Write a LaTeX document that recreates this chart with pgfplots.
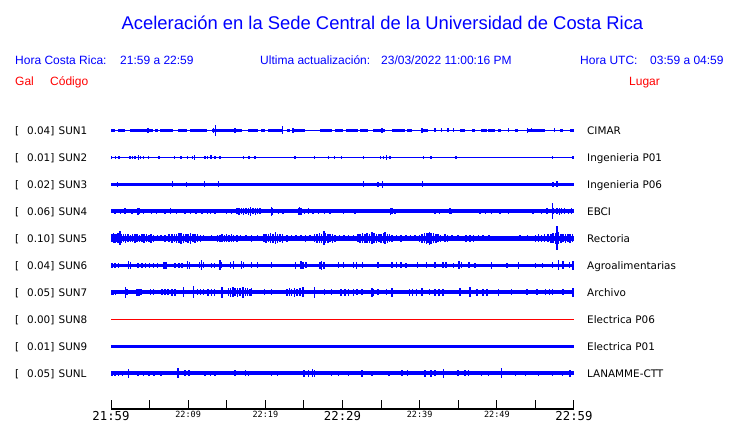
\documentclass[border=0pt]{standalone}
\usepackage{pgfplots}
\pgfplotsset{compat=1.18}
\usepackage{pgfplotstable}
\usepackage{fontspec}
\setmainfont{Liberation Sans}
\newfontfamily\dv{DejaVu Sans}
\newfontfamily\dvm{DejaVu Sans Mono}
\definecolor{tb}{RGB}{0,0,255}
\definecolor{tr}{RGB}{255,0,0}

\pgfplotstableread{
t y
0 0
60 0
}\spanT

% SUN1 thicker blocks: centre t, half width w (minutes)
\pgfplotstableread{
t w
0.26 0.26
1.38 0.43
3.97 1.51
5.92 0.22
7.22 0.87
9.26 0.54
11.32 1.08
14.99 1.95
18.45 0.65
19.73 0.23
21.26 0.86
22.98 0.22
24.37 0.77
27.84 0.76
29.55 0.55
31.23 0.83
32.83 0.53
34.75 0.75
37.25 0.85
38.68 0.28
40.68 0.42
45.55 0.35
46.97 0.23
48.35 0.35
49.35 0.45
50.40 0.20
52.60 0.20
55.05 1.15
58.40 0.20
59.75 0.25
}\blkA

\pgfplotstableread{
t a
4.8 2.5
13.3 2.5
13.52 5.3
16.07 2.3
22.2 3.8
23.6 2.5
35.1 2.3
40.3 2.3
41.99 2
42.85 2
43.7 2
44.4 2
51.5 2
54.0 2.5
54.5 2
57.5 2
}\spA

\pgfplotstableread{
t a
0.08 1.8
0.6 1.8
1.03 1.8
2.46 1.8
2.76 1.8
3.11 1.8
3.54 2.2
3.8 1.8
4.19 1.8
4.84 1.8
6.22 1.5
8.21 1.8
9.07 1.5
9.93 1.8
10.54 1.8
10.8 2.2
12.18 1.8
12.53 1.8
12.96 2
13.48 1.8
14.12 1.8
17.15 1.8
17.88 1.5
18.66 1.8
23.84 1.8
26.35 1.5
28.16 1.8
28.94 1.8
29.89 1.5
32.7 1.8
34.95 1.5
35.29 1.8
35.72 2.2
36.16 1.5
40.48 1.8
41.47 1.5
44.71 1.5
57.24 1.8
59.9 1.8
}\spB

\pgfplotstableread{
t a
0.82 2.8
8.0 3
9.8 2.8
12.1 3
13.9 3
32.7 3
34.6 2.8
35.2 3.5
40.4 3
57.3 2.8
57.8 3
}\spC

\pgfplotstableread{
t a
0.52 2.5
1.25 2.5
1.8 3
2.7 2.5
3.5 3.5
3.7 3
4.2 2.5
5.27 2.5
5.9 2.5
7.0 2.5
7.73 3
8.5 2.5
9.6 2.5
10.3 2.5
11.0 2.5
11.8 2.5
12.5 2.5
12.9 2.5
13.5 2.5
15.0 2.5
15.6 2.5
16.3 3
16.6 3.5
16.9 3
17.2 3.5
17.5 3
17.8 3.5
18.1 4.5
18.4 3
18.7 3.5
19.0 3
19.3 3
20.8 4.5
20.95 3.5
21.7 2.5
22.3 2.5
24.3 3.5
24.45 4
24.6 3.5
25.1 2.5
25.6 3
26.2 2.5
26.9 2.5
27.7 2.5
28.4 2.5
30.1 2.5
31.6 2.5
36.2 3.5
36.4 3
36.8 2.5
42.0 2.5
42.6 2.5
43.9 3
44.1 2.5
47.8 2.5
48.5 2.5
49.3 2.5
50.4 2.5
51.5 2.5
54.7 2.5
55.8 2.5
56.5 3
57.2 8
57.35 3
57.8 3
58.1 3.5
58.4 3
58.8 3
59.3 2.5
59.7 3
}\spD

\pgfplotstableread{
t a
0.1 4
0.3 5
0.5 4.5
0.7 4
0.9 5
1.16 7
1.3 4.5
1.6 4
1.9 4.5
2.2 4
2.5 3.5
2.8 4
3.1 4.5
3.4 4
3.7 3.5
4.0 4
4.3 4.5
4.6 4
4.9 3.5
5.2 4.5
5.5 3.5
6.0 3
6.5 3
7.0 3.5
7.5 4
7.9 4.5
8.2 4
8.5 4.5
8.8 5
9.1 5.5
9.4 4.5
9.7 4
10.0 4.5
10.3 5.5
10.6 4
10.9 4.5
11.2 4
11.6 3.5
12.0 3
13.0 3
13.8 3.5
14.1 3.5
14.4 4
14.7 3.5
15.0 4
15.3 3.5
15.6 4
15.9 3.5
16.3 3.5
16.8 3
17.5 3
18.2 3.5
19.0 3
19.8 4
20.1 4.5
20.4 4
20.7 5
21.0 4.5
21.3 6
21.6 4.5
21.9 4
22.2 4.5
22.8 3.5
23.4 3
24.0 3
24.6 3
25.2 3.5
25.8 3
26.4 4
26.7 4.5
27.0 5
27.3 4.5
27.6 7
27.8 5
28.1 4.5
28.4 4
28.7 4.5
29.0 3.5
29.6 3
30.2 3
30.8 3
31.4 3
32.0 4
32.3 4.5
32.6 5
32.9 4.5
33.2 5
33.5 4.5
33.8 6
34.1 5
34.4 4.5
34.7 4
35.0 4.5
35.3 5
35.5 6
35.8 4.5
36.1 4
36.4 3.5
37.0 3
37.6 3.5
38.2 3
38.8 3
39.4 3
40.0 3.5
40.3 4.5
40.6 5
40.9 5.5
41.1 5
41.3 6.5
41.5 5.5
41.8 5
42.1 4.5
42.4 4
42.7 3.5
43.3 4
43.6 3.5
44.2 3
45.0 3
46.0 3.5
46.5 3.5
47.0 3.5
47.6 3
48.2 3
49.0 3
50.0 2.8
51.0 2.8
52.0 2.8
53.0 3
54.0 3
55.0 3.5
55.4 4
55.8 3.5
56.2 4
56.6 4
57.0 4.5
57.3 5
57.6 5.5
57.8 12
58.0 6
58.3 4.5
58.6 4
58.9 4.5
59.2 4
59.5 4.5
59.8 4
}\spE

\pgfplotstableread{
t a
0.1 2.3
0.5 2.5
1.0 2.3
2.3 4
2.5 3.5
3.5 2.5
4.0 2.5
4.5 2.5
5.0 2.5
5.5 2.5
6.0 2.3
6.9 3.5
7.1 3.5
8.3 2.5
8.8 2.5
9.2 2.5
9.9 4
10.2 3.5
11.5 3
11.75 5
12.0 3
13.0 2.5
13.4 2.5
14.1 5
14.3 3
15.5 3
15.9 4
16.9 4
17.2 3
18.2 3
19.0 3
20.8 3
23.9 3.5
24.6 4
24.9 3.5
25.3 3
27.1 3.5
27.3 4.5
27.6 3.5
29.5 3
30.1 3
31.4 3
31.8 3.5
32.6 3
34.6 3
36.4 3
37.0 3
37.6 3
38.2 2.5
39.7 3
40.9 3
42.0 3
43.0 3
43.4 3
44.4 2.5
45.1 4
45.4 3
46.4 3
47.2 2.5
49.3 3.5
51.3 2.5
52.8 3.5
55.0 2.5
55.9 2.5
57.2 3
58.0 5
58.6 4
59.4 3
59.9 4.5
}\spF

\pgfplotstableread{
t a
0.1 2.5
0.3 2.5
0.6 2.5
1.9 5.5
2.1 3
3.4 3.5
3.6 3.5
3.9 3
5.1 3
5.5 3
6.6 3
7.0 3
7.4 3
7.9 3.5
8.3 3.5
9.4 5
10.7 6
11.2 3
11.6 3
12.0 3
12.6 3.5
13.0 3.5
13.4 3.5
14.4 5.5
15.2 4
15.5 4.5
15.8 5
16.1 4
16.4 4.5
16.7 4
17.1 5.5
17.4 4
17.7 4
18.0 3.5
18.2 4
19.9 3
20.8 3
22.8 3.5
23.1 4
23.4 3.5
23.8 4.5
24.1 3.5
24.5 4
24.9 5
26.4 5.5
27.7 3
28.6 3
29.8 3.5
30.3 3.5
30.8 3.5
31.4 3.5
31.9 3
32.5 3
33.8 4.5
34.0 3.5
34.6 3
35.7 3
36.4 4.5
38.7 3.5
39.1 3.5
39.6 3.5
40.3 4
41.3 3
42.0 3.5
42.5 3.5
43.0 3.5
45.2 4
46.5 5
47.4 3.5
48.2 3.5
48.7 3.5
50.2 3.5
51.9 3
53.9 3
55.2 3
56.3 3
56.8 3
57.2 3
58.6 3
59.9 4.5
}\spG

\pgfplotstableread{
t a
0.1 2.5
0.5 2.5
1.0 2.5
1.5 2.5
2.3 4.5
3.5 2.5
4.2 2.5
4.9 2.5
5.6 2.5
6.5 2.5
8.7 5
9.6 3
10.1 3
12.2 2.5
12.9 2.5
13.5 2.5
16.1 3
17.4 3
17.8 2.5
20.8 2.5
21.6 2.5
25.0 3.5
25.6 3.5
26.1 4
26.4 3.5
28.6 2.5
29.5 2.5
30.8 2.5
32.5 3.5
33.8 2.5
36.0 2.5
37.7 3
38.4 3
40.7 3.5
41.5 3.5
42.0 3
43.1 4.5
45.0 3
45.9 3
46.3 3
48.0 2.5
48.9 2.5
50.6 5
52.4 2.5
53.7 2.5
55.4 2.5
57.2 2.5
58.5 2.5
59.5 3.5
}\spL

\newcommand\tx{111+463/60*\thisrow{t}}
\newcommand\base[3]{\addplot[#1, line width=#2pt, forget plot] table[x expr=\tx, y expr=#3]{\spanT};}
\newcommand\spikes[2]{\addplot[draw=none, forget plot, error bars/.cd, y dir=both, y explicit, error mark=none, error bar style={draw=tb, line width=1.5pt, solid}] table[x expr=\tx, y expr=#1, y error=a]{#2};}
\newcommand\lab[5]{%
 \node[anchor=base west, inner sep=0pt, font=\dv\fontsize{10.4}{12}\selectfont] at (axis cs:15,#1) {[};
 \node[anchor=base west, inner sep=0pt, font=\dv\fontsize{10.4}{12}\selectfont] at (axis cs:27,#1) {#2]};
 \node[anchor=base west, inner sep=0pt, font=\dv\fontsize{10.4}{12}\selectfont] at (axis cs:58.5,#1) {#3};
 \node[anchor=base west, inner sep=0pt, font=\dv\fontsize{10.4}{12}\selectfont] at (axis cs:587,#1) {#4};}

\begin{document}
\begin{tikzpicture}
\useasboundingbox (0,0) rectangle (740pt,423pt);
\begin{axis}[at={(0,0)}, anchor=south west, scale only axis, width=740pt, height=423pt,
  xmin=0, xmax=740, ymin=0, ymax=423, y dir=reverse, hide axis, clip=false]
% title and headers
\node[anchor=base, inner sep=0pt, text=tb, font=\fontsize{18.4}{22}\selectfont] at (axis cs:382.5,29.5) {Aceleración en la Sede Central de la Universidad de Costa Rica};
\node[anchor=base west, inner sep=0pt, text=tb, font=\fontsize{12}{14}\selectfont] at (axis cs:15,65) {Hora Costa Rica:};
\node[anchor=base west, inner sep=0pt, text=tb, font=\fontsize{12}{14}\selectfont] at (axis cs:120,65) {21:59 a 22:59};
\node[anchor=base west, inner sep=0pt, text=tb, font=\fontsize{12}{14}\selectfont] at (axis cs:260,65) {Ultima actualización:};
\node[anchor=base west, inner sep=0pt, text=tb, font=\fontsize{12}{14}\selectfont] at (axis cs:381,65) {23/03/2022 11:00:16 PM};
\node[anchor=base west, inner sep=0pt, text=tb, font=\fontsize{12}{14}\selectfont] at (axis cs:580,65) {Hora UTC:};
\node[anchor=base west, inner sep=0pt, text=tb, font=\fontsize{12}{14}\selectfont] at (axis cs:650,65) {03:59 a 04:59};
\node[anchor=base west, inner sep=0pt, text=tr, font=\fontsize{12}{14}\selectfont] at (axis cs:15,85) {Gal};
\node[anchor=base west, inner sep=0pt, text=tr, font=\fontsize{12}{14}\selectfont] at (axis cs:50,85) {Código};
\node[anchor=base west, inner sep=0pt, text=tr, font=\fontsize{12}{14}\selectfont] at (axis cs:629,85) {Lugar};
% labels
\lab{134.3}{0.04}{SUN1}{CIMAR}{}
\lab{161.3}{0.01}{SUN2}{Ingenieria P01}{}
\lab{188.3}{0.02}{SUN3}{Ingenieria P06}{}
\lab{215.3}{0.06}{SUN4}{EBCI}{}
\lab{242.3}{0.10}{SUN5}{Rectoria}{}
\lab{269.3}{0.04}{SUN6}{Agroalimentarias}{}
\lab{296.3}{0.05}{SUN7}{Archivo}{}
\lab{323.3}{0.00}{SUN8}{Electrica P06}{}
\lab{350.3}{0.01}{SUN9}{Electrica P01}{}
\lab{377.3}{0.05}{SUNL}{LANAMME-CTT}{}
% traces
\base{tb}{1.3}{130.3}
\addplot[draw=none, forget plot, error bars/.cd, x dir=both, x explicit, error mark=none, error bar style={draw=tb, line width=3.3pt, solid}] table[x expr=\tx, y expr=130.3, x error expr=463/60*\thisrow{w}]{\blkA};
\spikes{130.3}{\spA}
\base{tb}{1.1}{157.3}
\spikes{157.3}{\spB}
\base{tb}{3.5}{184.3}
\spikes{184.3}{\spC}
\base{tb}{3.7}{211.3}
\spikes{211.3}{\spD}
\base{tb}{5.2}{238.3}
\spikes{238.3}{\spE}
\base{tb}{3.4}{265.3}
\spikes{265.3}{\spF}
\base{tb}{3.9}{292.3}
\spikes{292.3}{\spG}
\base{tr}{1.2}{319.3}
\base{tb}{3.5}{346.3}
\base{tb}{3.7}{373.3}
\spikes{373.3}{\spL}
\end{axis}
% time scale
\begin{axis}[at={(111pt,14pt)}, anchor=south west, scale only axis, width=463pt, height=10pt,
  xmin=0, xmax=60, ymin=0, ymax=1, axis x line=bottom, axis y line=none,
  x axis line style={-, black, line width=1.2pt},
  xtick={0,5,...,60}, tick align=inside, major tick length=9pt,
  xtick style={black, line width=1pt},
  xticklabel style={anchor=base, inner sep=0pt, yshift=-11.7pt},
  xticklabels={{\dvm\fontsize{12.3}{14}\selectfont 21:59},{},
    {\dvm\fontsize{8.5}{10}\selectfont\raisebox{2.7pt}{22:09}},{},
    {\dvm\fontsize{8.5}{10}\selectfont\raisebox{2.7pt}{22:19}},{},
    {\dvm\fontsize{12.3}{14}\selectfont 22:29},{},
    {\dvm\fontsize{8.5}{10}\selectfont\raisebox{2.7pt}{22:39}},{},
    {\dvm\fontsize{8.5}{10}\selectfont\raisebox{2.7pt}{22:49}},{},
    {\dvm\fontsize{12.3}{14}\selectfont 22:59}}]
\addplot[draw=none] coordinates {(0,0.5)};
\end{axis}
\end{tikzpicture}
\end{document}
